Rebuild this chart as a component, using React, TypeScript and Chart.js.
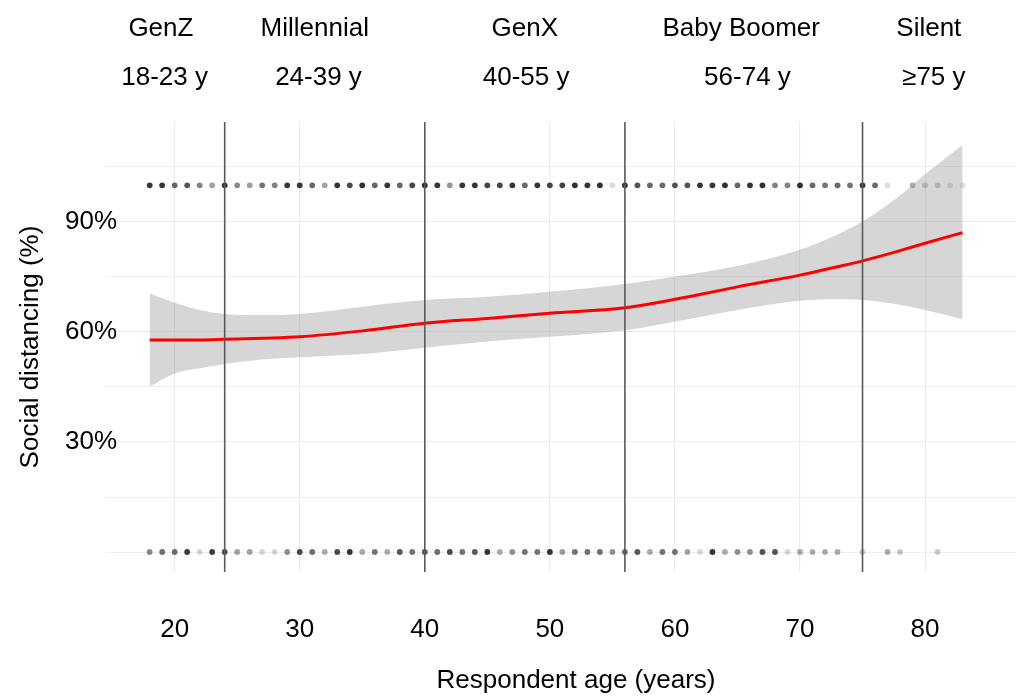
import React, { useEffect, useRef } from 'react';
import { Chart, registerables } from 'chart.js';

Chart.register(...registerables);

const FONT = '"Liberation Sans", Arial, Helvetica, sans-serif';

// ---- data ----
const ages = [18, 19, 20, 21, 22, 23, 24, 25, 26, 27, 28, 29, 30, 31, 32, 33, 34, 35, 36, 37, 38, 39, 40, 41, 42, 43, 44, 45, 46, 47, 48, 49, 50, 51, 52, 53, 54, 55, 56, 57, 58, 59, 60, 61, 62, 63, 64, 65, 66, 67, 68, 69, 70, 71, 72, 73, 74, 75, 76, 77, 78, 79, 80, 81, 82, 83];

// opacity of the (overplotted) respondents who answered 100% social distancing, per age
const topRowOpacity = [0.73, 0.73, 0.55, 0.62, 0.45, 0.35, 0.73, 0.42, 0.35, 0.5, 0.45, 0.73, 0.73, 0.55, 0.33, 0.73, 0.65, 0.75, 0.55, 0.73, 0.55, 0.68, 0.75, 0.73, 0.38, 0.73, 0.73, 0.68, 0.68, 0.73, 0.55, 0.73, 0.68, 0.68, 0.75, 0.73, 0.75, 0.13, 0.73, 0.62, 0.55, 0.55, 0.62, 0.62, 0.73, 0.73, 0.75, 0.55, 0.73, 0.75, 0.45, 0.45, 0.75, 0.55, 0.5, 0.55, 0.5, 0.73, 0.55, 0.13, null, 0.3, 0.22, 0.22, 0.15, 0.12];

// opacity of respondents who answered 0%, per age
const bottomRowOpacity = [0.42, 0.52, 0.52, 0.7, 0.15, 0.7, 0.65, 0.33, 0.33, 0.15, 0.15, 0.4, 0.65, 0.52, 0.3, 0.65, 0.73, 0.3, 0.5, 0.3, 0.6, 0.5, 0.6, 0.52, 0.65, 0.5, 0.6, 0.73, 0.3, 0.4, 0.5, 0.5, 0.73, 0.35, 0.5, 0.5, 0.52, 0.4, 0.52, 0.6, 0.3, 0.5, 0.5, 0.33, 0.15, 0.73, 0.3, 0.4, 0.4, 0.62, 0.62, 0.15, 0.3, 0.3, 0.3, 0.3, null, 0.2, null, 0.3, 0.2, null, null, 0.2, null, null];

const topRowValue = 1;
const bottomRowValue = 0;

// loess fit and its confidence band
const smoothAges = [18, 20, 22, 24, 27, 30, 35, 40, 45, 50, 56, 60, 65, 70, 73, 75, 78, 80, 83];
const smoothFit = [0.578, 0.578, 0.578, 0.58, 0.583, 0.587, 0.603, 0.624, 0.637, 0.651, 0.666, 0.689, 0.723, 0.755, 0.778, 0.794, 0.822, 0.842, 0.871];
const smoothUpper = [0.705, 0.68, 0.66, 0.649, 0.646, 0.649, 0.669, 0.687, 0.696, 0.71, 0.731, 0.751, 0.78, 0.824, 0.866, 0.901, 0.972, 1.03, 1.11];
const smoothLower = [0.451, 0.487, 0.501, 0.513, 0.525, 0.531, 0.54, 0.557, 0.574, 0.587, 0.605, 0.628, 0.66, 0.685, 0.689, 0.687, 0.674, 0.66, 0.635];

// generation boundaries
const cohortBreaks = [24, 40, 56, 75];
const generationNames = ['GenZ', 'Millennial', 'GenX', 'Baby Boomer', 'Silent'];
const generationNameX = [18.9, 31.2, 48.0, 65.3, 80.3];
const generationRanges = ['18-23 y', '24-39 y', '40-55 y', '56-74 y', '\u226575 y'];
const generationRangeX = [19.2, 31.5, 48.1, 65.8, 80.7];

// axes
const xTicks = [20, 30, 40, 50, 60, 70, 80];
const yGrid = [0, 0.15, 0.3, 0.45, 0.6, 0.75, 0.9, 1.05];
const yLabelled = [0.3, 0.6, 0.9];
const X_MIN = 14.51;
const X_MAX = 89.67;
const Y_MIN = -0.0545;
const Y_MAX = 1.1726;

const generationLabelsPlugin = {
  id: 'generationLabels',
  afterDraw(chart: any) {
    const { ctx } = chart;
    const xs = chart.scales.x;
    ctx.save();
    ctx.fillStyle = '#000';
    ctx.font = `26px ${FONT}`;
    ctx.textAlign = 'center';
    ctx.textBaseline = 'alphabetic';
    generationNames.forEach((t, i) => {
      ctx.fillText(t, xs.getPixelForValue(generationNameX[i]), 36);
    });
    generationRanges.forEach((t, i) => {
      ctx.fillText(t, xs.getPixelForValue(generationRangeX[i]), 85);
    });
    ctx.restore();
  },
};

export default function App() {
  const ref = useRef<HTMLCanvasElement | null>(null);

  useEffect(() => {
    if (!ref.current) return;

    const pointsData = (row: (number | null)[], yv: number) =>
      ages.map((a, i) => ({ x: a, y: row[i] === null ? null : yv }));
    const pointColors = (row: (number | null)[]) =>
      row.map((o) => `rgba(0,0,0,${o === null ? 0 : Math.min(1, o * 1.08)})`);

    const vlineSets = cohortBreaks.map((b) => ({
      label: `break ${b}`,
      data: [
        { x: b, y: Y_MIN },
        { x: b, y: Y_MAX },
      ],
      showLine: true,
      borderColor: '#595959',
      borderWidth: 1.6,
      pointRadius: 0,
      fill: false,
      order: 0,
    }));

    const chart = new Chart(ref.current, {
      type: 'scatter',
      data: {
        datasets: [
          ...vlineSets,
          {
            label: 'fit',
            data: smoothAges.map((a, i) => ({ x: a, y: smoothFit[i] })),
            showLine: true,
            borderColor: '#ff0000',
            borderWidth: 3,
            pointRadius: 0,
            cubicInterpolationMode: 'monotone',
            fill: false,
            order: 1,
          },
          {
            label: 'upper',
            data: smoothAges.map((a, i) => ({ x: a, y: smoothUpper[i] })),
            showLine: true,
            borderWidth: 0,
            borderColor: 'rgba(0,0,0,0)',
            backgroundColor: 'rgba(153,153,153,0.4)',
            pointRadius: 0,
            cubicInterpolationMode: 'monotone',
            fill: '+1',
            order: 2,
          },
          {
            label: 'lower',
            data: smoothAges.map((a, i) => ({ x: a, y: smoothLower[i] })),
            showLine: true,
            borderWidth: 0,
            borderColor: 'rgba(0,0,0,0)',
            pointRadius: 0,
            cubicInterpolationMode: 'monotone',
            fill: false,
            order: 3,
          },
          {
            label: '100%',
            data: pointsData(topRowOpacity, topRowValue),
            showLine: false,
            pointRadius: 2.9,
            pointBorderWidth: 0,
            pointBackgroundColor: pointColors(topRowOpacity),
            order: 4,
          },
          {
            label: '0%',
            data: pointsData(bottomRowOpacity, bottomRowValue),
            showLine: false,
            pointRadius: 2.9,
            pointBorderWidth: 0,
            pointBackgroundColor: pointColors(bottomRowOpacity),
            order: 5,
          },
        ] as any,
      },
      options: {
        responsive: false,
        animation: false,
        devicePixelRatio: 1,
        layout: { padding: { top: 122, right: 0, bottom: 0, left: 0 } },
        plugins: {
          legend: { display: false },
          tooltip: { enabled: false },
        },
        scales: {
          x: {
            type: 'linear',
            min: X_MIN,
            max: X_MAX,
            afterBuildTicks: (s: any) => {
              s.ticks = xTicks.map((v) => ({ value: v }));
            },
            afterFit: (s: any) => {
              s.height = 124;
            },
            grid: { color: '#ebebeb', lineWidth: 1.1, drawTicks: false },
            border: { display: false },
            ticks: {
              autoSkip: true,
              maxRotation: 0,
              padding: 42,
              color: '#000',
              font: { family: FONT, size: 26 },
              callback: (v: any) => String(v),
            },
            title: {
              display: true,
              text: 'Respondent age (years)',
              color: '#000',
              font: { family: FONT, size: 26 },
              padding: { top: 0, bottom: 0 },
            },
          },
          y: {
            type: 'linear',
            min: Y_MIN,
            max: Y_MAX,
            afterBuildTicks: (s: any) => {
              s.ticks = yGrid.map((v) => ({ value: v }));
            },
            afterFit: (s: any) => {
              s.width = 106;
            },
            grid: {
              color: '#ebebeb',
              lineWidth: (c: any) =>
                yLabelled.some((v) => Math.abs(v - c.tick?.value) < 1e-6) ? 1.1 : 0.8,
              drawTicks: false,
            },
            border: { display: false },
            ticks: {
              autoSkip: true,
              mirror: true,
              crossAlign: 'near',
              padding: -41,
              color: '#000',
              font: { family: FONT, size: 26 },
              callback: (v: any) =>
                yLabelled.some((l) => Math.abs(l - v) < 1e-6) ? `${Math.round(v * 100)}%` : '',
            },
            title: {
              display: true,
              text: 'Social distancing (%)',
              color: '#000',
              font: { family: FONT, size: 26 },
              padding: { top: 15, bottom: 0 },
            },
          },
        },
      } as any,
      plugins: [generationLabelsPlugin],
    });

    return () => chart.destroy();
  }, []);

  return (
    <div
      style={{
        position: 'absolute',
        left: 0,
        top: 0,
        width: 1016,
        height: 696,
        overflow: 'hidden',
        background: '#fff',
      }}
    >
      <canvas ref={ref} width={1050} height={696} style={{ width: 1050, height: 696, display: 'block' }} />
    </div>
  );
}
